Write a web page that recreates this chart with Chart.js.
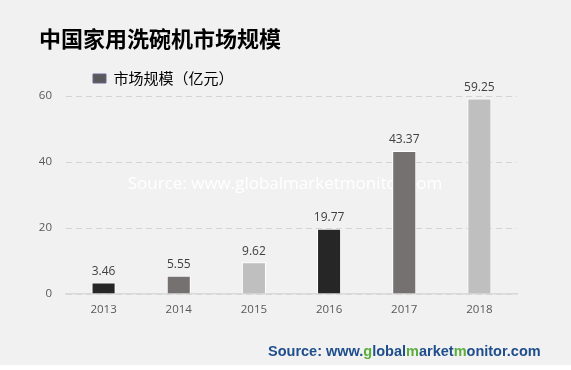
<!DOCTYPE html>
<html>
<head>
<meta charset="utf-8">
<script src="https://cdn.jsdelivr.net/npm/chart.js@4/dist/chart.umd.min.js"></script>
<style>
  html, body { margin: 0; padding: 0; background: #ffffff; }
  #wrap { position: relative; width: 571px; height: 365px; background: #f1f1f2; overflow: hidden; }
  #source { position: absolute; left: 268px; top: 343px; font: bold 14.5px "Liberation Sans", Arial, sans-serif; color: #1f4e8c; white-space: nowrap; }
  #source .g { color: #5cae3c; }
</style>
</head>
<body>
<div id="wrap">
  <canvas id="myChart" width="571" height="365"></canvas>
  <div id="source">Source: www.<span class="g">g</span>lobal<span class="g">m</span>arket<span class="g">m</span>onitor.com</div>
</div>
<script>
    const years = ['2013', '2014', '2015', '2016', '2017', '2018']
    const marketSize = [3.46, 5.55, 9.62, 19.77, 43.37, 59.25]
    const barColors = ['#262626', '#767171', '#bfbfbf', '#262626', '#767171', '#bfbfbf']
    const seriesName = '市场规模（亿元）'
    const chartTitle = '中国家用洗碗机市场规模'
    const watermark = 'Source: www.globalmarketmonitor.com'

    const titlePlugin = {
        id: 'titleText',
        afterDraw(chart) {
            const ctx = chart.ctx
            ctx.save()
            ctx.font = 'bold 22px "Noto Sans CJK SC", sans-serif'
            ctx.fillStyle = '#000000'
            ctx.textAlign = 'left'
            ctx.textBaseline = 'middle'
            ctx.fillText(chartTitle, 39, 39)
            ctx.restore()
        }
    }

    // white watermark goes under the bars
    const watermarkPlugin = {
        id: 'watermark',
        beforeDatasetsDraw(chart) {
            const ctx = chart.ctx
            ctx.save()
            ctx.font = '17px "Open Sans", sans-serif'
            ctx.fillStyle = '#ffffff'
            ctx.textAlign = 'center'
            ctx.textBaseline = 'middle'
            ctx.fillText(watermark, 285, 184)
            ctx.restore()
        }
    }

    const valueLabels = {
        id: 'valueLabels',
        afterDatasetsDraw(chart) {
            const ctx = chart.ctx
            const meta = chart.getDatasetMeta(0)
            ctx.save()
            ctx.font = '12px "Open Sans", sans-serif'
            ctx.fillStyle = '#404040'
            ctx.textAlign = 'center'
            ctx.textBaseline = 'bottom'
            meta.data.forEach((bar, i) => {
                ctx.fillText(marketSize[i].toFixed(2), bar.x, bar.y - 5)
            })
            ctx.restore()
        }
    }

    const ctx = document.getElementById('myChart').getContext('2d')
    const chart = new Chart(ctx, {
        type: 'bar',
        data: {
            labels: years,
            datasets: [{
                label: seriesName,
                data: marketSize,
                backgroundColor: barColors,
                borderColor: '#ffffff',
                borderWidth: 1,
                barPercentage: 0.64,
                categoryPercentage: 0.5
            }]
        },
        options: {
            responsive: false,
            animation: false,
            layout: { padding: { top: 44, right: 54, left: 0, bottom: 0 } },
            plugins: {
                tooltip: { enabled: false },
                legend: {
                    position: 'top',
                    align: 'start',
                    fullSize: false,
                    labels: {
                        padding: 27,
                        boxWidth: 13,
                        boxHeight: 9,
                        color: '#262626',
                        font: { family: '"Noto Sans CJK SC", sans-serif', size: 15 },
                        generateLabels: (c) => [{
                            text: seriesName,
                            fillStyle: '#595959',
                            strokeStyle: '#6f6394',
                            lineWidth: 1,
                            datasetIndex: 0
                        }]
                    }
                }
            },
            scales: {
                x: {
                    grid: { display: false, drawTicks: false },
                    border: { display: true, color: '#d9d9d9', width: 1.5 },
                    ticks: { color: '#595959', padding: 9, font: { family: '"Open Sans", sans-serif', size: 11.5 } },
                    afterFit: (scale) => { scale.height = 71 }
                },
                y: {
                    min: 0,
                    max: 60,
                    ticks: { stepSize: 20, color: '#595959', padding: 14, font: { family: '"Open Sans", sans-serif', size: 11.5 } },
                    grid: { color: '#d4d4d4', lineWidth: 1, drawTicks: false },
                    border: { display: false, dash: [6, 4] },
                    afterFit: (scale) => { scale.width = 66 }
                }
            }
        },
        plugins: [titlePlugin, watermarkPlugin, valueLabels]
    })
</script>
</body>
</html>
